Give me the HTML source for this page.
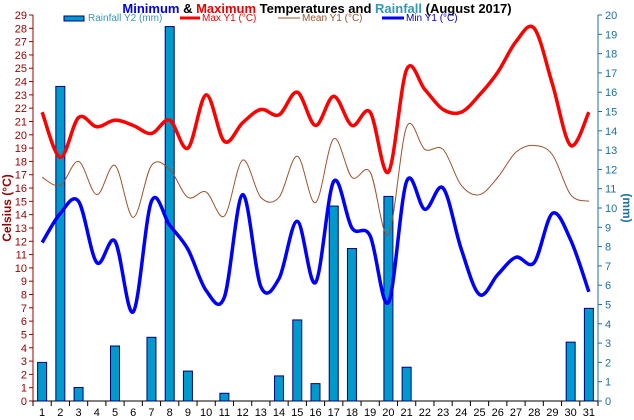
<!DOCTYPE html>
<html><head><meta charset="utf-8"><style>
body{margin:0;background:#fff}
svg{font-family:"Liberation Sans",sans-serif;display:block}
</style></head><body>
<svg id="c" width="634" height="420" xmlns="http://www.w3.org/2000/svg">
<text x="317" y="13" text-anchor="middle" font-size="13" font-weight="bold"><tspan fill="#0000ee">Minimum</tspan> &amp; <tspan fill="#ee0000">Maximum</tspan> Temperatures and <tspan fill="#3399bb">Rainfall</tspan> (August 2017)</text>
<g font-size="10">
<g><rect x="64" y="16" width="20" height="5" fill="#0099cc" stroke="#000080"/><text x="88" y="21" fill="#3399bb">Rainfall Y2 (mm)</text></g>
<g><line x1="180" y1="18" x2="200" y2="18" stroke="#ff0000" stroke-width="3"/><text x="202" y="21" fill="#ff0000">Max Y1 (°C)</text></g>
<g><line x1="278" y1="18" x2="300" y2="18" stroke="#a0522d" stroke-width="1"/><text x="302" y="21" fill="#a0522d">Mean Y1 (°C)</text></g>
<g><line x1="382" y1="18" x2="404" y2="18" stroke="#0000ff" stroke-width="3"/><text x="406" y="21" fill="#0000cc">Min Y1 (°C)</text></g>
</g>
<text transform="translate(11,208) rotate(-90)" text-anchor="middle" font-size="12" font-weight="bold" fill="#990000">Celsius (°C)</text>
<text transform="translate(623,208) rotate(90)" text-anchor="middle" font-size="12" font-weight="bold" fill="#1f6f9f">(mm)</text>
</svg>
<script>
const days=[1,2,3,4,5,6,7,8,9,10,11,12,13,14,15,16,17,18,19,20,21,22,23,24,25,26,27,28,29,30,31];
const rain=[2.0,16.3,0.7,0,2.85,0,3.3,19.4,1.55,0,0.4,0,0,1.3,4.2,0.9,10.1,7.9,0,10.6,1.75,0,0,0,0,0,0,0,0,3.05,4.8];
const tmax=[21.7,18.3,21.3,20.6,21.1,20.7,20.1,21.1,19.0,23.0,19.5,20.9,21.9,21.5,23.2,20.7,22.9,20.7,21.7,17.2,24.9,23.4,21.9,21.7,23.0,24.7,27.0,28.0,23.8,19.2,21.7];
const tmean=[16.8,16.2,18.0,15.5,17.7,13.8,17.7,17.4,15.3,15.7,13.9,18.1,15.3,15.3,18.4,14.9,19.7,16.8,17.2,12.5,20.6,18.9,18.9,16.2,15.5,16.8,18.7,19.2,18.5,15.5,15.0];
const tmin=[11.9,14.1,15.0,10.4,12.0,6.7,15.0,13.2,11.4,8.3,7.8,15.5,8.6,9.2,13.5,8.9,16.5,13.0,12.4,7.4,16.5,14.4,16.0,11.4,8.0,9.5,10.8,10.4,14.1,12.1,8.2];
const y1Ticks=[0,1,2,3,4,5,6,7,8,9,10,11,12,13,14,15,16,17,18,19,20,21,22,23,24,25,26,27,28,29];
const y2Ticks=[0,1,2,3,4,5,6,7,8,9,10,11,12,13,14,15,16,17,18,19,20];
const L=33,R=598,T=15,B=401,NS="http://www.w3.org/2000/svg";
const svg=document.getElementById('c');
const xs=d=>L+(R-L)*(d-0.5)/31;
const y1=v=>B-(B-T)*v/29;
const y2=v=>B-(B-T)*v/20;
function mk(t,a,p){const e=document.createElementNS(NS,t);for(const k in a)e.setAttribute(k,a[k]);(p||svg).appendChild(e);return e;}
const ax=mk('g',{});


mk('line',{x1:L,y1:T,x2:L,y2:B,stroke:'#990000'},ax);
mk('line',{x1:R,y1:T,x2:R,y2:B,stroke:'#1f6f9f'},ax);
mk('line',{x1:L,y1:B,x2:R,y2:B,stroke:'#000'},ax);
y1Ticks.forEach(v=>{mk('line',{x1:L-4,y1:y1(v),x2:L,y2:y1(v),stroke:'#990000'},ax);
const t=mk('text',{x:L-6,y:y1(v)+4,'text-anchor':'end','font-size':11,fill:'#990000'},ax);t.textContent=v;

});
y2Ticks.forEach(v=>{mk('line',{x1:R,y1:y2(v),x2:R+4,y2:y2(v),stroke:'#1f6f9f'},ax);
const t=mk('text',{x:R+7,y:y2(v)+4,'font-size':11,fill:'#1f6f9f'},ax);t.textContent=v;

});
for(let i=0;i<=31;i++){const x=L+(R-L)*i/31;mk('line',{x1:x,y1:B,x2:x,y2:B+5,stroke:'#000'},ax);}
days.forEach(d=>{const t=mk('text',{x:xs(d),y:B+15,'text-anchor':'middle','font-size':11,fill:'#000'},ax);t.textContent=d;

});
rain.forEach((v,i)=>{if(v<=0)return;const x=xs(days[i]);
const r=mk('rect',{x:x-4.5,y:y2(v),width:9,height:B-y2(v),fill:'#0099cc',stroke:'#000080','stroke-width':1});

});
function smooth(vals){const p=vals.map((v,i)=>[xs(days[i]),y1(v)]);let d='M'+p[0][0]+','+p[0][1];
for(let i=0;i<p.length-1;i++){const p0=p[i-1]||p[i],p1=p[i],p2=p[i+1],p3=p[i+2]||p2;
d+=' C'+(p1[0]+(p2[0]-p0[0])/6)+','+(p1[1]+(p2[1]-p0[1])/6)+' '+(p2[0]-(p3[0]-p1[0])/6)+','+(p2[1]-(p3[1]-p1[1])/6)+' '+p2[0]+','+p2[1];}return d;}
const lm=mk('path',{d:smooth(tmean),fill:'none',stroke:'#a0522d','stroke-width':1});


const lx=mk('path',{d:smooth(tmax),fill:'none',stroke:'#ff0000','stroke-width':3.5});


const ln=mk('path',{d:smooth(tmin),fill:'none',stroke:'#0000ff','stroke-width':3.5});


</script>
</body></html>
